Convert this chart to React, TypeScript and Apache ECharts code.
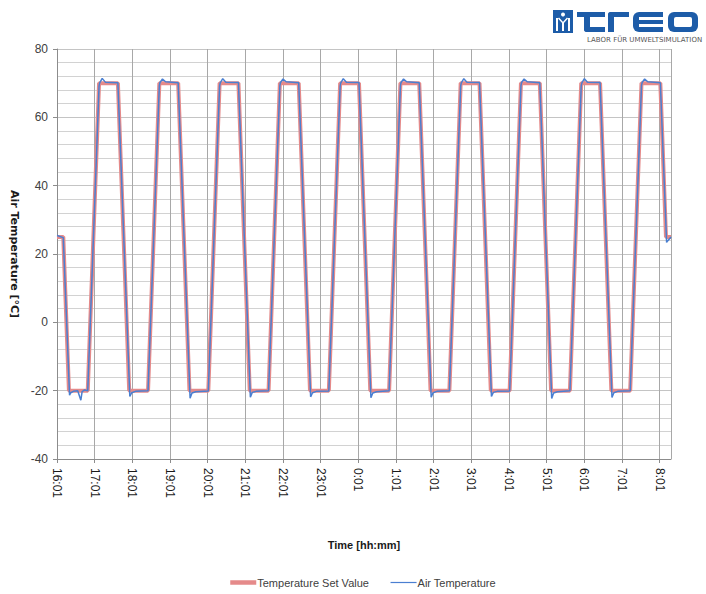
import React, { useEffect, useRef } from "react";
import * as echarts from "echarts";

// Minutes after 16:01 for each hourly tick label
const timeLabels = [
  "16:01", "17:01", "18:01", "19:01", "20:01", "21:01", "22:01", "23:01",
  "0:01", "1:01", "2:01", "3:01", "4:01", "5:01", "6:01", "7:01", "8:01",
];

// Temperature set value: [minutes after 16:01, °C]
const setValueData: [number, number][] = [
  [0, 25], [10, 25], [19, -20],
  [49, -20], [67, 70], [97, 70], [115, -20],
  [145, -20], [163, 70], [193, 70], [211, -20],
  [241, -20], [259, 70], [289, 70], [307, -20],
  [337, -20], [355, 70], [385, 70], [403, -20],
  [433, -20], [451, 70], [481, 70], [499, -20],
  [529, -20], [547, 70], [577, 70], [595, -20],
  [625, -20], [643, 70], [673, 70], [691, -20],
  [721, -20], [739, 70], [769, 70], [787, -20],
  [817, -20], [835, 70], [865, 70], [883, -20],
  [913, -20], [931, 70], [961, 70], [970, 25], [978, 25],
];

// Measured air temperature: [minutes after 16:01, °C]
const airTempData: [number, number][] = [
  [0, 25.4], [10, 24.8],
  [20, -21.3], [22, -20.6], [26, -20.2], [33, -20.0], [38, -22.8], [40, -20.3], [44, -19.8], [49, -20.0],
  [67, 69.2], [68, 70.1], [72, 71.4], [77, 70.3], [97, 70.1],
  [116, -21.7], [119, -20.6], [125, -20.2], [145, -20.0],
  [163, 69.3], [164, 70.2], [168, 71.2], [173, 70.4], [193, 70.1],
  [212, -22.2], [215, -20.7], [221, -20.3], [241, -20.1],
  [259, 69.2], [260, 70.1], [264, 71.3], [269, 70.3], [289, 70.2],
  [308, -21.9], [311, -20.5], [317, -20.2], [337, -20.0],
  [355, 69.3], [356, 70.2], [360, 71.2], [365, 70.4], [385, 70.1],
  [404, -21.8], [407, -20.6], [413, -20.2], [433, -20.1],
  [451, 69.2], [452, 70.1], [456, 71.3], [461, 70.3], [481, 70.2],
  [500, -22.1], [503, -20.7], [509, -20.3], [529, -20.0],
  [547, 69.3], [548, 70.2], [552, 71.2], [557, 70.4], [577, 70.1],
  [596, -21.9], [599, -20.6], [605, -20.2], [625, -20.0],
  [643, 69.2], [644, 70.1], [648, 71.3], [653, 70.3], [673, 70.2],
  [692, -21.7], [695, -20.5], [701, -20.2], [721, -20.1],
  [739, 69.3], [740, 70.2], [744, 71.2], [749, 70.4], [769, 70.1],
  [788, -22.3], [791, -20.7], [797, -20.3], [817, -20.0],
  [835, 69.2], [836, 70.1], [840, 71.3], [845, 70.3], [865, 70.2],
  [884, -22.0], [887, -20.6], [893, -20.2], [913, -20.0],
  [931, 69.3], [932, 70.2], [936, 71.2], [941, 70.4], [961, 70.1],
  [971, 23.4], [973, 23.9], [978, 25.0],
];

const BLUE = "#1d5ca8";

export default function App() {
  const ref = useRef<HTMLDivElement>(null);

  useEffect(() => {
    const chart = echarts.init(ref.current!, null, { renderer: "svg" });
    chart.setOption({
      animation: false,
      backgroundColor: "#ffffff",
      grid: { left: 57, right: 35, top: 49, bottom: 135, containLabel: false },
      legend: {
        left: 228,
        top: 577,
        padding: 0,
        itemWidth: 26,
        itemHeight: 12,
        itemGap: 21,
        itemStyle: { opacity: 0 },
        textStyle: { fontFamily: "Liberation Sans", fontSize: 11, color: "#404040", padding: [0, 0, 0, -4] },
        data: [
          { name: "Temperature Set Value", lineStyle: { width: 4.5 } },
          { name: "Air Temperature", lineStyle: { width: 1.2 } },
        ],
      },
      xAxis: {
        type: "value",
        min: 0,
        max: 978,
        interval: 60,
        name: "Time [hh:mm]",
        nameLocation: "middle",
        nameGap: 80,
        nameTextStyle: { fontFamily: "Liberation Sans", fontWeight: "bold", fontSize: 11, color: "#1a1a1a" },
        axisLine: { show: true, onZero: false, lineStyle: { color: "#8c8c8c", width: 1 } },
        axisTick: { show: true, length: 4, lineStyle: { color: "#8c8c8c" } },
        axisLabel: {
          rotate: -90,
          margin: 9,
          fontFamily: "Liberation Sans",
          fontSize: 12,
          color: "#1a1a1a",
          showMaxLabel: false,
          formatter: (v: number) => (v % 60 === 0 ? timeLabels[v / 60] ?? "" : ""),
        },
        splitLine: { show: true, lineStyle: { color: "#a8a8a8", width: 1 } },
      },
      yAxis: {
        type: "value",
        min: -40,
        max: 80,
        interval: 20,
        name: "Air Temperature [°C]",
        nameLocation: "middle",
        nameRotate: -90,
        nameGap: 30,
        nameTextStyle: { fontFamily: "DejaVu Sans", fontWeight: "bold", fontSize: 11, color: "#1a1a1a" },
        axisLine: { show: true, lineStyle: { color: "#8c8c8c", width: 1 } },
        axisTick: { show: true, length: 4, lineStyle: { color: "#8c8c8c" } },
        axisLabel: { fontFamily: "Liberation Sans", fontSize: 12, color: "#404040", margin: 9 },
        splitLine: { show: true, lineStyle: { color: "#c4c4c4", width: 1 } },
        minorTick: { show: false, splitNumber: 5 },
        minorSplitLine: { show: true, lineStyle: { color: "#d2d2d2", width: 1 } },
      },
      series: [
        {
          name: "Temperature Set Value",
          type: "line",
          data: setValueData,
          symbol: "none",
          lineStyle: { color: "#e58a8a", width: 4 },
          itemStyle: { color: "#e58a8a" },
          z: 2,
        },
        {
          name: "Air Temperature",
          type: "line",
          data: airTempData,
          symbol: "none",
          lineStyle: { color: "#4a7fd1", width: 1.5 },
          itemStyle: { color: "#4a7fd1" },
          z: 3,
        },
      ],
      graphic: [
        // Logo icon
        { type: "rect", shape: { x: 553, y: 10, width: 20, height: 23 }, style: { fill: BLUE } },
        { type: "rect", shape: { x: 556, y: 18, width: 2, height: 13 }, style: { fill: "#fff" } },
        { type: "rect", shape: { x: 568, y: 18, width: 2, height: 13 }, style: { fill: "#fff" } },
        { type: "circle", shape: { cx: 563, cy: 14.5, r: 2 }, style: { fill: "#fff" } },
        { type: "polyline", shape: { points: [[558.5, 18], [563, 23], [567.5, 18]] }, style: { stroke: "#fff", lineWidth: 1.5, fill: null } },
        { type: "line", shape: { x1: 563, y1: 23, x2: 563, y2: 31 }, style: { stroke: "#fff", lineWidth: 2 } },
        // t
        { type: "rect", shape: { x: 577, y: 12, width: 28, height: 5 }, style: { fill: BLUE } },
        { type: "rect", shape: { x: 584, y: 12, width: 6, height: 20, r: [0, 0, 0, 3] }, style: { fill: BLUE } },
        { type: "rect", shape: { x: 584, y: 27, width: 21, height: 5, r: [0, 0, 0, 3] }, style: { fill: BLUE } },
        // r
        { type: "rect", shape: { x: 608, y: 12, width: 21, height: 5, r: [3, 0, 0, 0] }, style: { fill: BLUE } },
        { type: "rect", shape: { x: 608, y: 12, width: 6, height: 20, r: [3, 0, 0, 0] }, style: { fill: BLUE } },
        // E
        { type: "rect", shape: { x: 633, y: 12, width: 30, height: 20, r: [6, 0, 0, 6] }, style: { fill: BLUE } },
        { type: "rect", shape: { x: 639, y: 17, width: 24, height: 3 }, style: { fill: "#fff" } },
        { type: "rect", shape: { x: 639, y: 24, width: 24, height: 3 }, style: { fill: "#fff" } },
        // O
        { type: "rect", shape: { x: 668, y: 12, width: 30, height: 20, r: 6 }, style: { fill: BLUE } },
        { type: "rect", shape: { x: 674, y: 17, width: 18, height: 10, r: 2 }, style: { fill: "#fff" } },
        {
          type: "text",
          x: 587,
          y: 36,
          style: { text: "LABOR FÜR UMWELTSIMULATION", fontFamily: "DejaVu Sans", fontSize: 7, fill: "#555555" },
        },
      ],
    });
    return () => chart.dispose();
  }, []);

  return <div ref={ref} style={{ position: "fixed", left: 0, top: 0, width: 706, height: 594 }} />;
}
